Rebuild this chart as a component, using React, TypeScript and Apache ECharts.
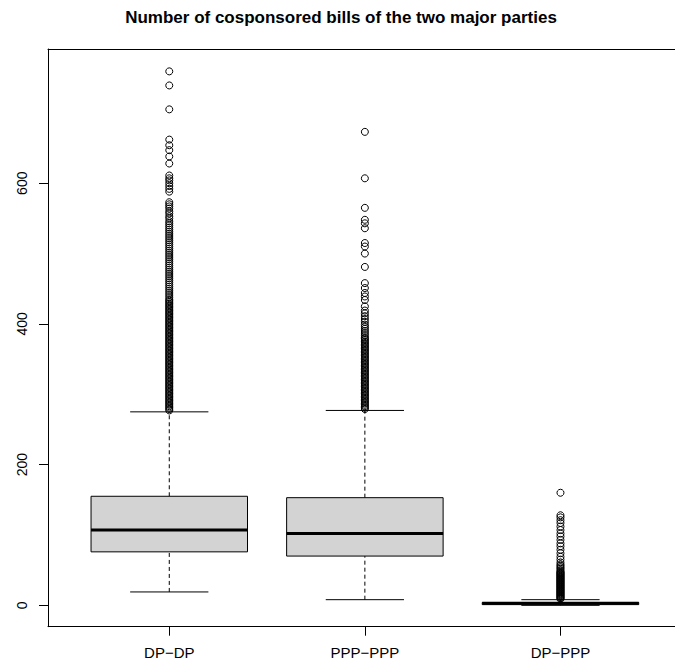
import { useEffect, useRef } from 'react';
import * as echarts from 'echarts';

const categories = ['DP\u2212DP', 'PPP\u2212PPP', 'DP\u2212PPP'];
const titleText = 'Number of cosponsored bills of the two major parties';
const yTicks = [0, 200, 400, 600];
const xTicks = [1, 2, 3];

// [lower whisker, Q1, median, Q3, upper whisker]
const boxDPDP = [19, 76, 107, 155, 275];
const boxPPPPPP = [8, 70, 102, 153, 277];
const boxDPPPP = [0, 1, 3, 4, 8];

const outliersDPDP = [
  759, 739, 705, 662, 654, 647, 638, 628, 611, 607, 604, 600, 596, 592, 588,
  573, 570, 567, 564, 560, 557, 553, 550, 546, 543, 540, 537, 534, 531, 528,
  525, 522, 519, 516, 513, 510, 507, 504, 501, 498, 495, 492, 489, 486, 483,
  480, 477, 474, 471, 468, 465, 462, 459, 456, 453, 450, 447, 444, 441, 438, 435,
  433, 431, 429, 427, 425, 423, 421, 419, 417, 415, 413, 411, 409, 407, 405,
  403, 401, 399, 397, 395, 393, 391, 389, 387, 385, 383, 381, 379, 377, 375,
  373, 371, 369, 367, 365, 363, 361, 359, 357, 355, 353, 351, 349, 347, 345,
  343, 341, 339, 337, 335, 333, 331, 329, 327, 325, 323, 321, 319, 317, 315,
  313, 311, 309, 307, 305, 303, 301, 299, 297, 295, 293, 291, 289, 287, 285,
  283, 281, 279, 277,
];

const outliersPPPPPP = [
  673, 607, 565, 548, 543, 536, 515, 510, 500, 481, 458, 451, 444, 439, 434,
  425, 419, 415, 411, 407, 403, 399, 396, 393, 390, 387, 384, 381,
  379, 377, 375, 373, 371, 369, 367, 365, 363, 361, 359, 357, 355, 353, 351,
  349, 347, 345, 343, 341, 339, 337, 335, 333, 331, 329, 327, 325, 323, 321,
  319, 317, 315, 313, 311, 309, 307, 305, 303, 301, 299, 297, 295, 293, 291,
  289, 287, 285, 283, 281, 279,
];

const outliersDPPPP = [
  160, 128, 125, 121, 117, 112, 107, 102, 98, 93, 88, 84, 79, 74, 69, 65, 61,
  58, 56, 54, 52, 50, 48, 47, 46, 45, 44, 43, 42, 41, 40, 39, 38, 37, 36, 35,
  34, 33, 32, 31, 30, 29, 28, 27, 26, 25, 24, 23, 22, 21, 20, 19, 18, 17, 16,
  15, 14, 13, 12, 11, 10, 9,
];

const FONT = '"Liberation Sans", Arial, Helvetica, sans-serif';

export default function App() {
  const ref = useRef<HTMLDivElement>(null);

  useEffect(() => {
    if (!ref.current) return;
    const chart = echarts.init(ref.current, null, { renderer: 'svg' });

    const boxes = [boxDPDP, boxPPPPPP, boxDPPPP];
    const outlierSets = [outliersDPDP, outliersPPPPPP, outliersDPPPP];
    const boxData = boxes.map((s, i) => [i + 1, ...s]);
    const outlierData: number[][] = [];
    outlierSets.forEach((set, i) => set.forEach((v) => outlierData.push([i + 1, v])));

    const renderBox = (params: any, api: any) => {
      const x = api.value(0);
      const c = (v: number) => api.coord([x, v]);
      const pMin = c(api.value(1));
      const pQ1 = c(api.value(2));
      const pMd = c(api.value(3));
      const pQ3 = c(api.value(4));
      const pMax = c(api.value(5));
      const hb = api.size([0.4, 0])[0];
      const hc = api.size([0.2, 0])[0];
      const cx = pMin[0];
      const solid = { stroke: '#000', lineWidth: 1, fill: null };
      const dashed = { stroke: '#000', lineWidth: 1, lineDash: [4, 3], fill: null };
      return {
        type: 'group',
        children: [
          { type: 'line', shape: { x1: cx, y1: pQ3[1], x2: cx, y2: pMax[1] }, style: dashed },
          { type: 'line', shape: { x1: cx, y1: pMin[1], x2: cx, y2: pQ1[1] }, style: dashed },
          { type: 'line', shape: { x1: cx - hc, y1: pMax[1], x2: cx + hc, y2: pMax[1] }, style: solid },
          { type: 'line', shape: { x1: cx - hc, y1: pMin[1], x2: cx + hc, y2: pMin[1] }, style: solid },
          {
            type: 'rect',
            shape: { x: cx - hb, y: pQ3[1], width: 2 * hb, height: pQ1[1] - pQ3[1] },
            style: { fill: '#d3d3d3', stroke: '#000', lineWidth: 1 },
          },
          { type: 'line', shape: { x1: cx - hb, y1: pMd[1], x2: cx + hb, y2: pMd[1] }, style: { stroke: '#000', lineWidth: 3 } },
        ],
      };
    };

    chart.setOption({
      animation: false,
      backgroundColor: '#fff',
      textStyle: { fontFamily: FONT },
      graphic: [
        {
          type: 'text',
          x: 341,
          y: 17,
          style: {
            text: titleText,
            font: `bold 17px ${FONT}`,
            fill: '#000',
            textAlign: 'center',
            textVerticalAlign: 'middle',
          },
        },
        {
          type: 'rect',
          z: 100,
          zlevel: 0,
          shape: { x: 645, y: 52, width: 45, height: 571 },
          style: { fill: '#ffffff', stroke: 'none' },
          silent: true,
        },
      ],
      grid: {
        left: 48,
        top: 49,
        right: 0,
        bottom: 40.3,
        show: false,
        containLabel: false,
        outerBoundsMode: 'none',
      },
      xAxis: [
        {
          type: 'value',
          position: 'bottom',
          min: 0.38,
          max: 3.5855,
          splitLine: { show: false },
          axisLine: { show: true, onZero: false, lineStyle: { color: '#000', width: 1 } },
          axisTick: { show: true, customValues: xTicks, length: 9, lineStyle: { color: '#000' } },
          axisLabel: {
            customValues: xTicks,
            formatter: (v: number) => categories[Math.round(v) - 1] ?? '',
            fontSize: 15,
            fontFamily: FONT,
            color: '#000',
            margin: 18,
          },
        },
        {
          type: 'value',
          position: 'top',
          min: 0.38,
          max: 3.5855,
          splitLine: { show: false },
          axisLine: { show: true, onZero: false, lineStyle: { color: '#000', width: 1 } },
          axisTick: { show: false },
          axisLabel: { show: false },
        },
      ],
      yAxis: {
        type: 'value',
        min: -30.4,
        max: 790.8,
        splitLine: { show: false },
        axisLine: { show: true, onZero: false, lineStyle: { color: '#000', width: 1 } },
        axisTick: { show: true, customValues: yTicks, length: 9, lineStyle: { color: '#000' } },
        axisLabel: {
          customValues: yTicks,
          rotate: 90,
          fontSize: 14,
          fontFamily: FONT,
          color: '#000',
          margin: 19,
        },
      },
      series: [
        {
          type: 'custom',
          renderItem: renderBox,
          data: boxData,
          encode: { x: 0, y: [1, 2, 3, 4, 5] },
          silent: true,
          z: 2,
        },
        {
          type: 'scatter',
          data: outlierData,
          symbol: 'circle',
          symbolSize: 7,
          silent: true,
          z: 3,
          itemStyle: { color: 'rgba(0,0,0,0)', borderColor: '#000', borderWidth: 1, opacity: 1 },
        },
      ],
    });

    return () => chart.dispose();
  }, []);

  return (
    <div
      ref={ref}
      style={{ position: 'fixed', left: 0, top: 0, width: 675, height: 667 }}
    />
  );
}
